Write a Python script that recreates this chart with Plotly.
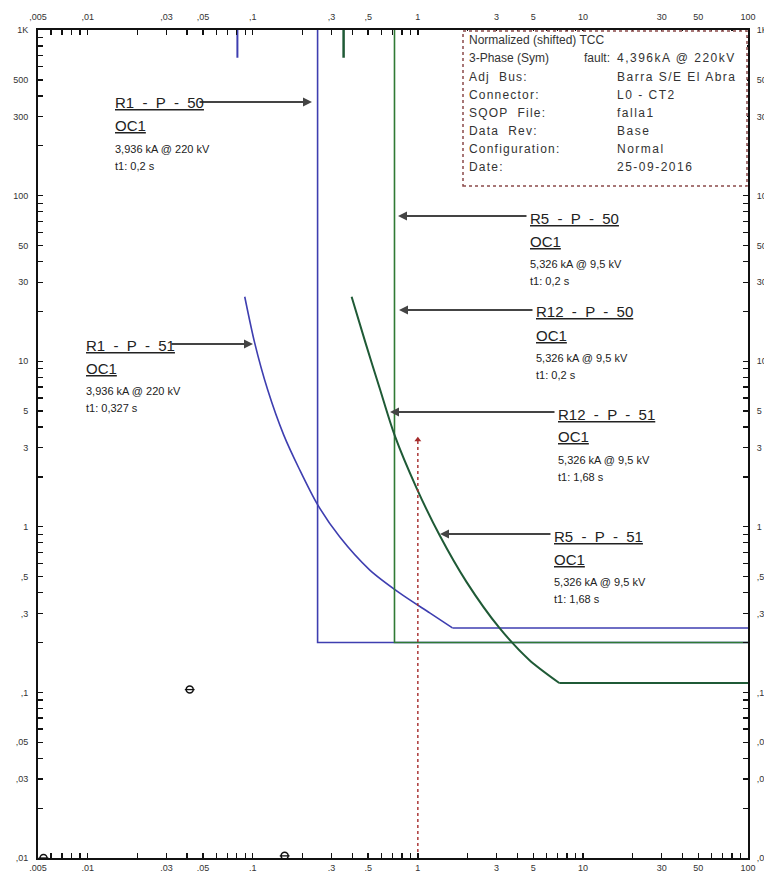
import math
import plotly.graph_objects as go

# ---------------- data ----------------
# multiples of pickup current (normalized) and operating time (s)
r1_51_current = [0.0894, 0.1027, 0.1231, 0.1539, 0.1923, 0.247, 0.336, 0.510, 0.774, 1.18, 1.62, 100]
r1_51_time = [24.5, 12.9, 6.72, 3.59, 2.21, 1.36, 0.870, 0.550, 0.399, 0.302, 0.245, 0.245]

r1_50_current = [0.247, 0.247, 100]
r1_50_time = [1000, 0.2, 0.2]

r5_50_current = [0.722, 0.722, 100]
r5_50_time = [1000, 0.2, 0.2]

r12_51_current = [0.397, 0.482, 0.586, 0.722, 0.981, 1.35, 1.97, 3.12, 4.73, 7.19, 100]
r12_51_time = [24.5, 12.9, 6.91, 3.59, 1.72, 0.895, 0.465, 0.245, 0.157, 0.114, 0.114]

# short fault markers at the top edge
top_mark_blue = [0.0807, 0.0807]
top_mark_green = [0.355, 0.355]
top_mark_time = [1000, 680]

# fault current arrow (red dotted)
fault_current = [1.0, 1.0]
fault_time = [0.01, 3.35]

# small symbols
sym_current = [0.0415, 0.156, 0.0054]
sym_time = [0.104, 0.0103, 0.0100]

x_tickvals_labeled = [0.005, 0.01, 0.03, 0.05, 0.1, 0.3, 0.5, 1, 3, 5, 10, 30, 50, 100]
x_ticktext_labeled = [",005", ",01", ",03", ",05", ",1", ",3", ",5", "1", "3", "5", "10", "30", "50", "100"]
y_tickvals_labeled = [0.01, 0.03, 0.05, 0.1, 0.3, 0.5, 1, 3, 5, 10, 30, 50, 100, 300, 500, 1000]
y_ticktext_labeled = [",01", ",03", ",05", ",1", ",3", ",5", "1", "3", "5", "10", "30", "50", "100", "300", "500", "1K"]

info_keys = ["Normalized (shifted) TCC", "3-Phase (Sym)", "Adj\u00a0\u00a0Bus:", "Connector:",
             "SQOP\u00a0\u00a0File:", "Data\u00a0\u00a0Rev:", "Configuration:", "Date:"]
info_vals = ["", "4,396kA @ 220kV", "Barra S/E El Abra", "L0 - CT2", "falla1", "Base", "Normal", "25-09-2016"]

label_titles = ["R1 \u00a0- \u00a0P \u00a0- \u00a050", "R5 \u00a0- \u00a0P \u00a0- \u00a050", "R12 \u00a0- \u00a0P \u00a0- \u00a050",
                "R12 \u00a0- \u00a0P \u00a0- \u00a051", "R5 \u00a0- \u00a0P \u00a0- \u00a051", "R1 \u00a0- \u00a0P \u00a0- \u00a051"]
label_details = ["3,936 kA @ 220 kV", "5,326 kA @ 9,5 kV", "5,326 kA @ 9,5 kV",
                 "5,326 kA @ 9,5 kV", "5,326 kA @ 9,5 kV", "3,936 kA @ 220 kV"]
label_t1 = ["t1: 0,2 s", "t1: 0,2 s", "t1: 0,2 s", "t1: 1,68 s", "t1: 1,68 s", "t1: 0,327 s"]

# ---------------- styling / layout ----------------
BLUE = "#3e3eb0"
GREEN = "#2f7a34"
DGREEN = "#1f5a36"
RED = "#a52a2a"

W, H = 764, 871
L, R, T, B = 38, 748, 30, 858


def fx(p):
    return (p - L) / (R - L)


def fy(p):
    return 1 - (p - T) / (B - T)


def all_ticks(lo_exp, hi_exp, lo, hi):
    vals = []
    for e in range(lo_exp, hi_exp + 1):
        for m in range(1, 10):
            v = m * 10 ** e
            if lo * 0.999 <= v <= hi * 1.001:
                vals.append(float(f"{v:.6g}"))
    return vals


def tick_text(vals, lab_vals, lab_text):
    out = []
    for v in vals:
        t = ""
        for lv, lt in zip(lab_vals, lab_text):
            if abs(math.log10(v) - math.log10(lv)) < 1e-6:
                t = lt
        out.append(t)
    return out


xt = all_ticks(-3, 2, 0.005, 100)
yt = all_ticks(-2, 3, 0.01, 1000)
xtt = tick_text(xt, x_tickvals_labeled, x_ticktext_labeled)
ytt = tick_text(yt, y_tickvals_labeled, y_ticktext_labeled)

fig = go.Figure()


def add_curve(xs, ys, color, width):
    # smooth inverse-time part, then the straight definite-time tail
    fig.add_trace(go.Scatter(x=xs[:-1], y=ys[:-1], mode="lines", line_shape="spline",
                             line=dict(color=color, width=width, smoothing=0.8), hoverinfo="skip"))
    fig.add_trace(go.Scatter(x=xs[-2:], y=ys[-2:], mode="lines",
                             line=dict(color=color, width=width), hoverinfo="skip"))


fig.add_trace(go.Scatter(x=r1_50_current, y=r1_50_time, mode="lines",
                         line=dict(color=BLUE, width=1.6), hoverinfo="skip"))
add_curve(r1_51_current, r1_51_time, BLUE, 1.6)
fig.add_trace(go.Scatter(x=r5_50_current, y=r5_50_time, mode="lines",
                         line=dict(color=GREEN, width=1.6), hoverinfo="skip"))
add_curve(r12_51_current, r12_51_time, DGREEN, 2)
fig.add_trace(go.Scatter(x=top_mark_blue, y=top_mark_time, mode="lines",
                         line=dict(color=BLUE, width=2), hoverinfo="skip"))
fig.add_trace(go.Scatter(x=top_mark_green, y=top_mark_time, mode="lines",
                         line=dict(color=DGREEN, width=2.5), hoverinfo="skip"))
fig.add_trace(go.Scatter(x=fault_current, y=fault_time, mode="lines",
                         line=dict(color=RED, width=1.4, dash="dot"), hoverinfo="skip"))
fig.add_trace(go.Scatter(x=fault_current[-1:], y=fault_time[-1:], mode="markers",
                         marker=dict(symbol="triangle-up", size=6, color=RED), hoverinfo="skip"))
fig.add_trace(go.Scatter(x=sym_current, y=sym_time, mode="markers",
                         marker=dict(symbol="circle-open", size=7, color="#111", line=dict(width=1.5)),
                         hoverinfo="skip"))
fig.add_trace(go.Scatter(x=sym_current, y=sym_time, mode="markers",
                         marker=dict(symbol="line-ew-open", size=7, color="#111", line=dict(width=1.3)),
                         hoverinfo="skip"))
# invisible trace for mirrored axes
fig.add_trace(go.Scatter(x=[0.005, 100], y=[0.01, 1000], xaxis="x2", yaxis="y2", mode="markers",
                         marker=dict(opacity=0), hoverinfo="skip"))

xr = [math.log10(0.005), 2]
yr = [-2, 3]
tickfont = dict(family="Liberation Sans, Arial", size=9, color="#333")
axis_common = dict(type="log", showgrid=False, zeroline=False, showline=True, linecolor="#111",
                   linewidth=2, ticks="inside", ticklen=5, tickwidth=1.3, tickcolor="#111",
                   tickmode="array", tickfont=tickfont, fixedrange=True, automargin=False)

fig.update_layout(
    width=W, height=H,
    margin=dict(l=L, r=W - R, t=T, b=H - B, autoexpand=False),
    paper_bgcolor="white", plot_bgcolor="white",
    showlegend=False,
    hovermode=False,
    xaxis=dict(range=xr, tickvals=xt, ticktext=xtt, side="bottom", ticklabelstandoff=0, **axis_common),
    yaxis=dict(range=yr, tickvals=yt, ticktext=ytt, side="left", ticklabelstandoff=6, **axis_common),
    xaxis2=dict(range=xr, tickvals=xt, ticktext=xtt, side="top", overlaying="x", ticklabelstandoff=4,
                **axis_common),
    yaxis2=dict(range=yr, tickvals=yt, ticktext=ytt, side="right", overlaying="y", ticklabelstandoff=5,
                **axis_common),
)

# info box
fig.add_shape(type="rect", xref="paper", yref="paper", x0=fx(463), x1=fx(747), y0=fy(186), y1=fy(31),
              line=dict(color="#8a4a4a", width=1.5, dash="dot"), fillcolor="white", layer="above")

info_rows_y = [40, 58, 76.5, 94.5, 112.5, 131, 149, 167]
info_font = dict(family="Liberation Sans, Arial", size=12, color="#333")
for i, (k, v, yy) in enumerate(zip(info_keys, info_vals, info_rows_y)):
    ktxt = k if i < 2 else "<span style='letter-spacing:1.2px'>" + k + "</span>"
    fig.add_annotation(x=fx(467), y=fy(yy), xref="paper", yref="paper", text=ktxt, showarrow=False,
                       xanchor="left", yanchor="middle", font=info_font)
    if v:
        fig.add_annotation(x=fx(615), y=fy(yy), xref="paper", yref="paper",
                           text="<span style='letter-spacing:1.5px'>" + v + "</span>", showarrow=False,
                           xanchor="left", yanchor="middle", font=info_font)
fig.add_annotation(x=fx(612), y=fy(info_rows_y[1]), xref="paper", yref="paper", text="fault:",
                   showarrow=False, xanchor="right", yanchor="middle", font=info_font)

# labels with arrows
label_pos = [  # (text left px, title y px, arrow tail px, arrow head px, arrow y px)
    (113, 103, 198, 312, 102),
    (528, 218, 528, 398, 216),
    (534, 312, 534, 399, 310),
    (556, 414, 556, 390, 412),
    (552, 536, 552, 440, 534),
    (84, 345, 170, 253, 344),
]
title_font = dict(family="Liberation Sans, Arial", size=15, color="#222")
small_font = dict(family="Liberation Sans, Arial", size=11, color="#222")
for title, det, t1, (lx, ly, tail, head, ay) in zip(label_titles, label_details, label_t1, label_pos):
    fig.add_annotation(x=fx(head), y=fy(ay), xref="paper", yref="paper", text="",
                       showarrow=True, ax=tail - head, ay=0, arrowhead=2, arrowsize=1,
                       arrowwidth=1.8, arrowcolor="#444", standoff=0, startstandoff=0)
    fig.add_annotation(x=fx(lx), y=fy(ly), xref="paper", yref="paper", text="<u>" + title + "</u>",
                       showarrow=False, xanchor="left", yanchor="middle", font=title_font)
    fig.add_annotation(x=fx(lx), y=fy(ly + 23), xref="paper", yref="paper", text="<u>OC1</u>",
                       showarrow=False, xanchor="left", yanchor="middle", font=title_font)
    fig.add_annotation(x=fx(lx), y=fy(ly + 46), xref="paper", yref="paper", text=det,
                       showarrow=False, xanchor="left", yanchor="middle", font=small_font)
    fig.add_annotation(x=fx(lx), y=fy(ly + 63), xref="paper", yref="paper", text=t1,
                       showarrow=False, xanchor="left", yanchor="middle", font=small_font)

fig.write_html("out.html", config={"displayModeBar": False, "staticPlot": True},
               post_script="document.body.style.margin='0';document.body.style.overflow='hidden';")
